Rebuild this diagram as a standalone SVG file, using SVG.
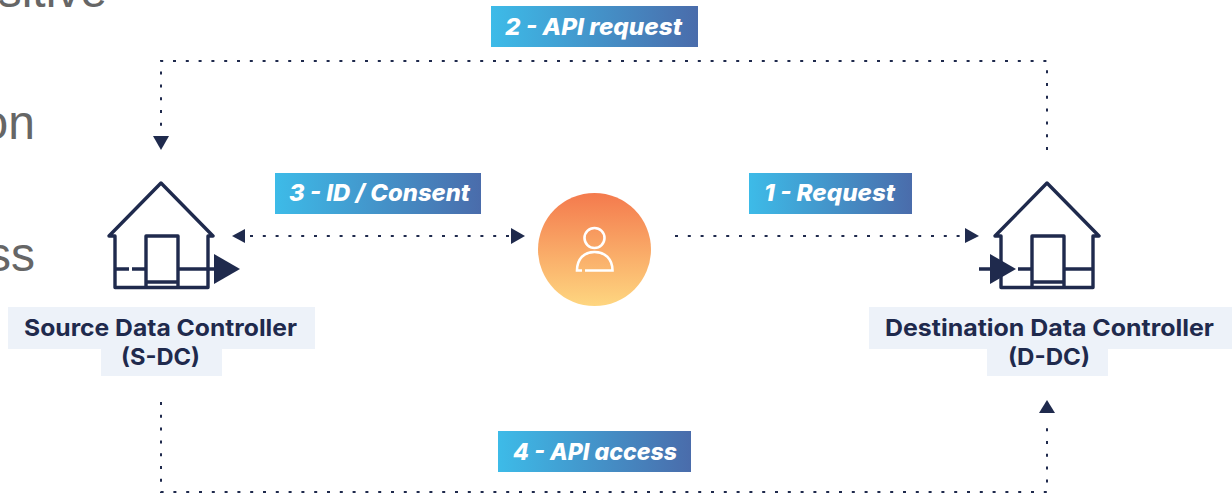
<svg xmlns="http://www.w3.org/2000/svg" width="1232" height="495" viewBox="0 0 1232 495">
<style>
.bg{font-family:"Liberation Sans",Arial,sans-serif;font-size:48px;fill:#666;text-anchor:end}
.tag{font-family:Inter,"Open Sans",sans-serif;font-size:23px;font-weight:800;font-style:italic;fill:#fff}
.nm{font-family:Inter,"Open Sans",sans-serif;font-size:23px;font-weight:700;fill:#1f2a4d}
.plate{fill:#edf2f9}
.dot{fill:none;stroke:#1f2a4d;stroke-width:2;stroke-dasharray:3 9.800}
.ah{fill:#1f2a4d}
.ho{fill:none;stroke:#1f2a4d;stroke-width:3.400;stroke-linejoin:round}
.pn{fill:none;stroke:#fff;stroke-width:2.600}
</style>
<defs>
<linearGradient id="tg"><stop offset="0" stop-color="#3dbbe8"/><stop offset="1" stop-color="#4a6cab"/></linearGradient>
<linearGradient id="og" x1="0" y1="0" x2="0" y2="1"><stop offset="0" stop-color="#f47a4d"/><stop offset="1" stop-color="#fed680"/></linearGradient>
</defs>
<rect width="1232" height="495" fill="#fff"/>
<g id="background-text">
<text class="bg" x="107" y="7">sitive</text>
<text class="bg" x="35" y="139">on</text>
<text class="bg" x="35" y="271">ss</text>
</g>
<g id="connectors">
<path class="dot" d="M1047 150V61H161V130"/>
<path class="dot" d="M161 402V492H1047V420"/>
<path class="dot" d="M250 236H511"/>
<path class="dot" d="M675 236H965"/>
<path class="ah" d="M153 136H169L161 150Z"/>
<path class="ah" d="M1047 400L1055 413H1039Z"/>
<path class="ah" d="M232 236L245 229V243Z"/>
<path class="ah" d="M525 236L511 228V244Z"/>
<path class="ah" d="M979 236L965 228V243Z"/>
</g>
<g id="tag-2"><rect x="491" y="6" width="207" height="41" fill="url(#tg)"/><text class="tag" x="505" y="34.500" textLength="177" lengthAdjust="spacingAndGlyphs">2 - API request</text></g>
<g id="tag-3"><rect x="275" y="173" width="206" height="41" fill="url(#tg)"/><text class="tag" x="289" y="201" textLength="181" lengthAdjust="spacingAndGlyphs">3 - ID / Consent</text></g>
<g id="tag-1"><rect x="749" y="173" width="163" height="41" fill="url(#tg)"/><text class="tag" x="764" y="201" textLength="131" lengthAdjust="spacingAndGlyphs">1 - Request</text></g>
<g id="tag-4"><rect x="498" y="431" width="193" height="41" fill="url(#tg)"/><text class="tag" x="513" y="460" textLength="164" lengthAdjust="spacingAndGlyphs">4 - API access</text></g>
<g id="source">
<path class="ho" d="M115 236H109L161 183L213 236H208V287.500H115Z"/>
<path class="ho" d="M146 287.500V236H178V287.500M146 282H178"/>
<path class="ho" d="M115 269H129M132 269H146M178 269H214"/>
<path class="ah" d="M214 254L240 269L214 284Z"/>
<rect class="plate" x="8" y="307" width="307" height="42"/>
<rect class="plate" x="101" y="349" width="121" height="27"/>
<text class="nm" x="24" y="336" textLength="273" lengthAdjust="spacingAndGlyphs">Source Data Controller</text>
<text class="nm" x="121" y="365" textLength="79" lengthAdjust="spacingAndGlyphs">(S-DC)</text>
</g>
<g id="user">
<circle cx="594.500" cy="249.500" r="56.500" fill="url(#og)"/>
<circle class="pn" cx="594.500" cy="238" r="10"/>
<path class="pn" d="M582 270.500H577C577 259 584 252 594.500 252C605 252 612.500 259 612.500 270.500H585"/>
</g>
<g id="destination">
<path class="ho" d="M1001 236H995L1047 183L1099 236H1093V287.500H1001Z"/>
<path class="ho" d="M1032 287.500V236H1064V287.500M1032 282H1064"/>
<path class="ho" d="M979 269H992M1018 269H1032M1064 269H1093"/>
<path class="ah" d="M990 254L1016 269L990 284Z"/>
<rect class="plate" x="869" y="307" width="363" height="42"/>
<rect class="plate" x="987" y="349" width="121" height="27"/>
<text class="nm" x="885" y="336" textLength="329" lengthAdjust="spacingAndGlyphs">Destination Data Controller</text>
<text class="nm" x="1008" y="365" textLength="82" lengthAdjust="spacingAndGlyphs">(D-DC)</text>
</g>
</svg>
